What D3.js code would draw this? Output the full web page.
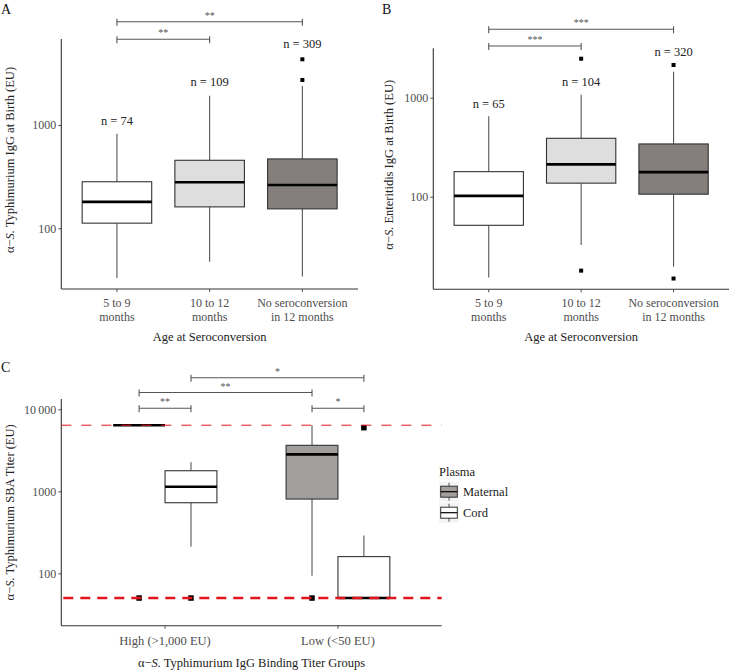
<!DOCTYPE html>
<html><head><meta charset="utf-8">
<script src="https://cdn.jsdelivr.net/npm/d3@7"></script>
<style>body{margin:0;background:#fff} svg{display:block;font-family:"Liberation Serif","DejaVu Serif",serif}</style>
</head><body><svg id="c" width="730" height="671"></svg>
<script>
// ---------- DATA ----------
const catsAB = [["5 to 9","months"],["10 to 12","months"],["No seroconversion","in 12 months"]];
const fillsAB = ["#ffffff","#dedede","#847f7d"];
// box stats: [lower whisker, Q1, median, Q3, upper whisker]
const statsA = [[33,112,180,282,824],[47.5,161,279,455,1923],[34,154,262,469,2386]];
const outliersA = [[],[],[2728,4325]];
const nA = [74,109,309];
const nPosA = [1093,2625,6080];
const sigA = [[0,2,"**"],[0,1,"**"]];
const ticksA = [100,1000];

const statsB = [[15.3,51.4,102,179,649],[32.5,137,212,389,1072],[19.6,106,177,341,1832]];
const outliersB = [[],[2477,17.9],[2140,14.9]];
const nB = [65,104,320];
const nPosB = [863,1452,2917];
const sigB = [[0,2,"***"],[0,1,"***"]];
const ticksB = [100,1000];

const groupsC = ["High (>1,000 EU)","Low (<50 EU)"];
const plasmaC = ["Maternal","Cord"];
const fillsC = ["#a29e9b","#ffffff"];
// statsC[group][plasma]
const statsC = [
  [[6400,6400,6400,6400,6400],[211,726,1138,1783,2259]],
  [[93.5,805,2826,3640,6400],[50,50,50,160,290]]
];
const outliersC = [[[50],[50]],[[50],[5970]]];
const refLinesC = [6400,50];
const ticksC = [100,1000,10000];
const tickLabelsC = ["100","1000","10\u2009000"];
// brackets: [groupA, plasmaA, groupB, plasmaB, label]
const sigC = [[0,1,1,1,"*"],[0,0,1,0,"**"],[0,0,0,1,"**"],[1,0,1,1,"*"]];

// ---------- DRAW ----------
const svg = d3.select("#c");
const AX = "#333", WH = "#555", TXT = "#4d4d4d";

function drawBox(g, cx, w, s, y, fill, outs, osz){
  g.append("line").attr("x1",cx).attr("x2",cx).attr("y1",y(s[3])).attr("y2",y(s[4])).attr("stroke",WH).attr("stroke-width",1.1);
  g.append("line").attr("x1",cx).attr("x2",cx).attr("y1",y(s[1])).attr("y2",y(s[0])).attr("stroke",WH).attr("stroke-width",1.1);
  g.append("rect").attr("x",cx-w/2).attr("width",w).attr("y",y(s[3])).attr("height",Math.max(0,y(s[1])-y(s[3])))
    .attr("fill",fill).attr("stroke",AX).attr("stroke-width",1.1);
  g.append("line").attr("x1",cx-w/2).attr("x2",cx+w/2).attr("y1",y(s[2])).attr("y2",y(s[2])).attr("stroke","#000").attr("stroke-width",2.6);
  outs.forEach(o=>g.append("rect").attr("x",cx-osz/2).attr("y",y(o)-osz/2).attr("width",osz).attr("height",osz).attr("fill","#000"));
}

function bracket(g, xa, xb, yy, label){
  g.append("line").attr("x1",xa).attr("x2",xb).attr("y1",yy).attr("y2",yy).attr("stroke",WH).attr("stroke-width",1.1);
  [xa,xb].forEach(x=>g.append("line").attr("x1",x).attr("x2",x).attr("y1",yy-3).attr("y2",yy+4).attr("stroke",WH).attr("stroke-width",1.1));
  g.append("text").attr("x",(xa+xb)/2).attr("y",yy-3).attr("text-anchor","middle").attr("font-size",10).attr("fill",WH).text(label);
}

function axes(g, x0, x1, y0, y1, y, ticks, labels){
  const ax = g.append("g").attr("transform",`translate(${x0},0)`)
    .call(d3.axisLeft(y).tickValues(ticks).tickFormat((d,i)=>labels[i]).tickSize(3).tickPadding(2));
  ax.select(".domain").remove();
  ax.selectAll(".tick line").attr("stroke",TXT);
  ax.selectAll(".tick text").attr("font-size",12).attr("fill",TXT).attr("font-family","Liberation Serif");
  g.append("line").attr("x1",x0).attr("x2",x0).attr("y1",y1).attr("y2",y0).attr("stroke",AX).attr("stroke-width",1.1);
  g.append("line").attr("x1",x0).attr("x2",x1).attr("y1",y0).attr("y2",y0).attr("stroke",AX).attr("stroke-width",1.1);
}

function ylabel(g, cx, cy, prefix, rest){
  const t = g.append("text").attr("transform",`translate(${cx},${cy}) rotate(-90)`).attr("text-anchor","middle")
    .attr("dy","0.35em").attr("font-size",12.5).attr("fill","#222");
  t.append("tspan").text("\u03b1\u2212");
  t.append("tspan").attr("font-style","italic").text("S.");
  t.append("tspan").text(rest);
}

function panelAB(o){
  const g = svg.append("g");
  const x = d3.scalePoint().domain(d3.range(3)).range([o.x0,o.x1]).padding(0.6);
  const y = d3.scaleLog().domain(o.domain).range([o.yb,o.yt]);
  const step = x.step();
  axes(g,o.x0,o.x1,o.yb,o.yt,y,o.ticks,o.ticks.map(String));
  o.cats.forEach((c,i)=>{
    g.append("line").attr("x1",x(i)).attr("x2",x(i)).attr("y1",o.yb).attr("y2",o.yb+3).attr("stroke",TXT);
    const t = g.append("text").attr("x",x(i)).attr("text-anchor","middle").attr("font-size",12).attr("fill",TXT);
    t.append("tspan").attr("x",x(i)).attr("y",o.yb+18).text(c[0]);
    t.append("tspan").attr("x",x(i)).attr("y",o.yb+32).text(c[1]);
  });
  o.stats.forEach((s,i)=>drawBox(g,x(i),step*0.75,s,y,o.fills[i],o.outs[i],4));
  o.n.forEach((n,i)=>g.append("text").attr("x",x(i)).attr("y",y(o.nPos[i])).attr("dy","0.35em").attr("text-anchor","middle")
    .attr("font-size",12.5).attr("fill","#222").text("n = "+n));
  o.sig.forEach((s,k)=>bracket(g,x(s[0]),x(s[1]),o.sigY[k],s[2]));
  g.append("text").attr("x",(o.x0+o.x1)/2).attr("y",337).attr("dy","0.35em").attr("text-anchor","middle").attr("font-size",12.5).attr("fill","#222").text("Age at Seroconversion");
  ylabel(g,o.ylx,(o.yb+o.yt)/2-4,"",o.ytitle);
  g.append("text").attr("x",o.lx).attr("y",14).attr("font-size",14).attr("fill","#111").text(o.letter);
}

panelAB({x0:61.3,x1:358,yt:39,yb:289,domain:[25.8,6800],cats:catsAB,stats:statsA,outs:outliersA,fills:fillsAB,
  n:nA,nPos:nPosA,sig:sigA,sigY:[21.7,39.3],ticks:ticksA,ylx:9.5,ytitle:" Typhimurium IgG at Birth (EU)",letter:"A",lx:1});
panelAB({x0:433.3,x1:729,yt:48.3,yb:289.3,domain:[11.6,3155],cats:catsAB,stats:statsB,outs:outliersB,fills:fillsAB,
  n:nB,nPos:nPosB,sig:sigB,sigY:[29.3,46],ticks:ticksB,ylx:389,ytitle:" Enteritidis IgG at Birth (EU)",letter:"B",lx:382});

// Panel C
(function(){
  const g = svg.append("g");
  const x0=61.3,x1=441.7,yt=399,yb=625.7;
  const x = d3.scalePoint().domain(d3.range(2)).range([x0,x1]).padding(0.6);
  const y = d3.scaleLog().domain([23,13360]).range([yb,yt]);
  const step = x.step(), bw = step*0.3;
  const cx = (gi,pi)=>x(gi)+(pi===0?-1:1)*bw/2;
  axes(g,x0,x1,yb,yt,y,ticksC,tickLabelsC);
  groupsC.forEach((c,i)=>{
    g.append("line").attr("x1",x(i)).attr("x2",x(i)).attr("y1",yb).attr("y2",yb+3).attr("stroke",TXT);
    g.append("text").attr("x",x(i)).attr("y",yb+15).attr("dy","0.35em").attr("text-anchor","middle").attr("font-size",12.5).attr("fill",TXT).text(c);
  });
  statsC.forEach((gs,gi)=>gs.forEach((s,pi)=>drawBox(g,cx(gi,pi),bw,s,y,fillsC[pi],outliersC[gi][pi],5.5)));
  g.append("line").attr("x1",x0).attr("x2",x1).attr("y1",y(refLinesC[0])).attr("y2",y(refLinesC[0]))
    .attr("stroke","#e3141c").attr("stroke-width",1).attr("stroke-dasharray","10,10");
  g.append("line").attr("x1",x0+2).attr("x2",x1).attr("y1",y(refLinesC[1])).attr("y2",y(refLinesC[1]))
    .attr("stroke","#e3141c").attr("stroke-width",2.6).attr("stroke-dasharray","10,7");
  const sigYC=[377.7,392.5,408.3,408.3];
  sigC.forEach((s,k)=>bracket(g,cx(s[0],s[1]),cx(s[2],s[3]),sigYC[k],s[4]));
  const t = g.append("text").attr("x",(x0+x1)/2).attr("y",663).attr("dy","0.35em").attr("text-anchor","middle").attr("font-size",12.5).attr("fill","#222");
  t.append("tspan").text("\u03b1\u2212"); t.append("tspan").attr("font-style","italic").text("S.");
  t.append("tspan").text(" Typhimurium IgG Binding Titer Groups");
  ylabel(g,9.5,(yb+yt)/2,"", " Typhimurium SBA Titer (EU)");
  g.append("text").attr("x",1).attr("y",372).attr("font-size",14).attr("fill","#111").text("C");
  const lg = svg.append("g").attr("transform","translate(439,465)");
  lg.append("text").attr("x",0).attr("y",6.5).attr("dy","0.35em").attr("font-size",12.5).attr("fill","#222").text("Plasma");
  plasmaC.forEach((p,i)=>{
    const ky = 16.7 + i*21;
    lg.append("rect").attr("x",0).attr("y",ky).attr("width",20).attr("height",20).attr("fill","#f4f4f4");
    lg.append("line").attr("x1",10).attr("x2",10).attr("y1",ky+1).attr("y2",ky+19).attr("stroke",WH);
    lg.append("rect").attr("x",1.7).attr("y",ky+4.5).attr("width",16.6).attr("height",11).attr("fill",fillsC[i]).attr("stroke",AX).attr("stroke-width",1);
    lg.append("line").attr("x1",1.7).attr("x2",18.3).attr("y1",ky+10).attr("y2",ky+10).attr("stroke","#000").attr("stroke-width",1.2);
    lg.append("text").attr("x",24).attr("y",ky+10).attr("dy","0.35em").attr("font-size",12.5).attr("fill","#222").text(p);
  });
})();
</script></body></html>
